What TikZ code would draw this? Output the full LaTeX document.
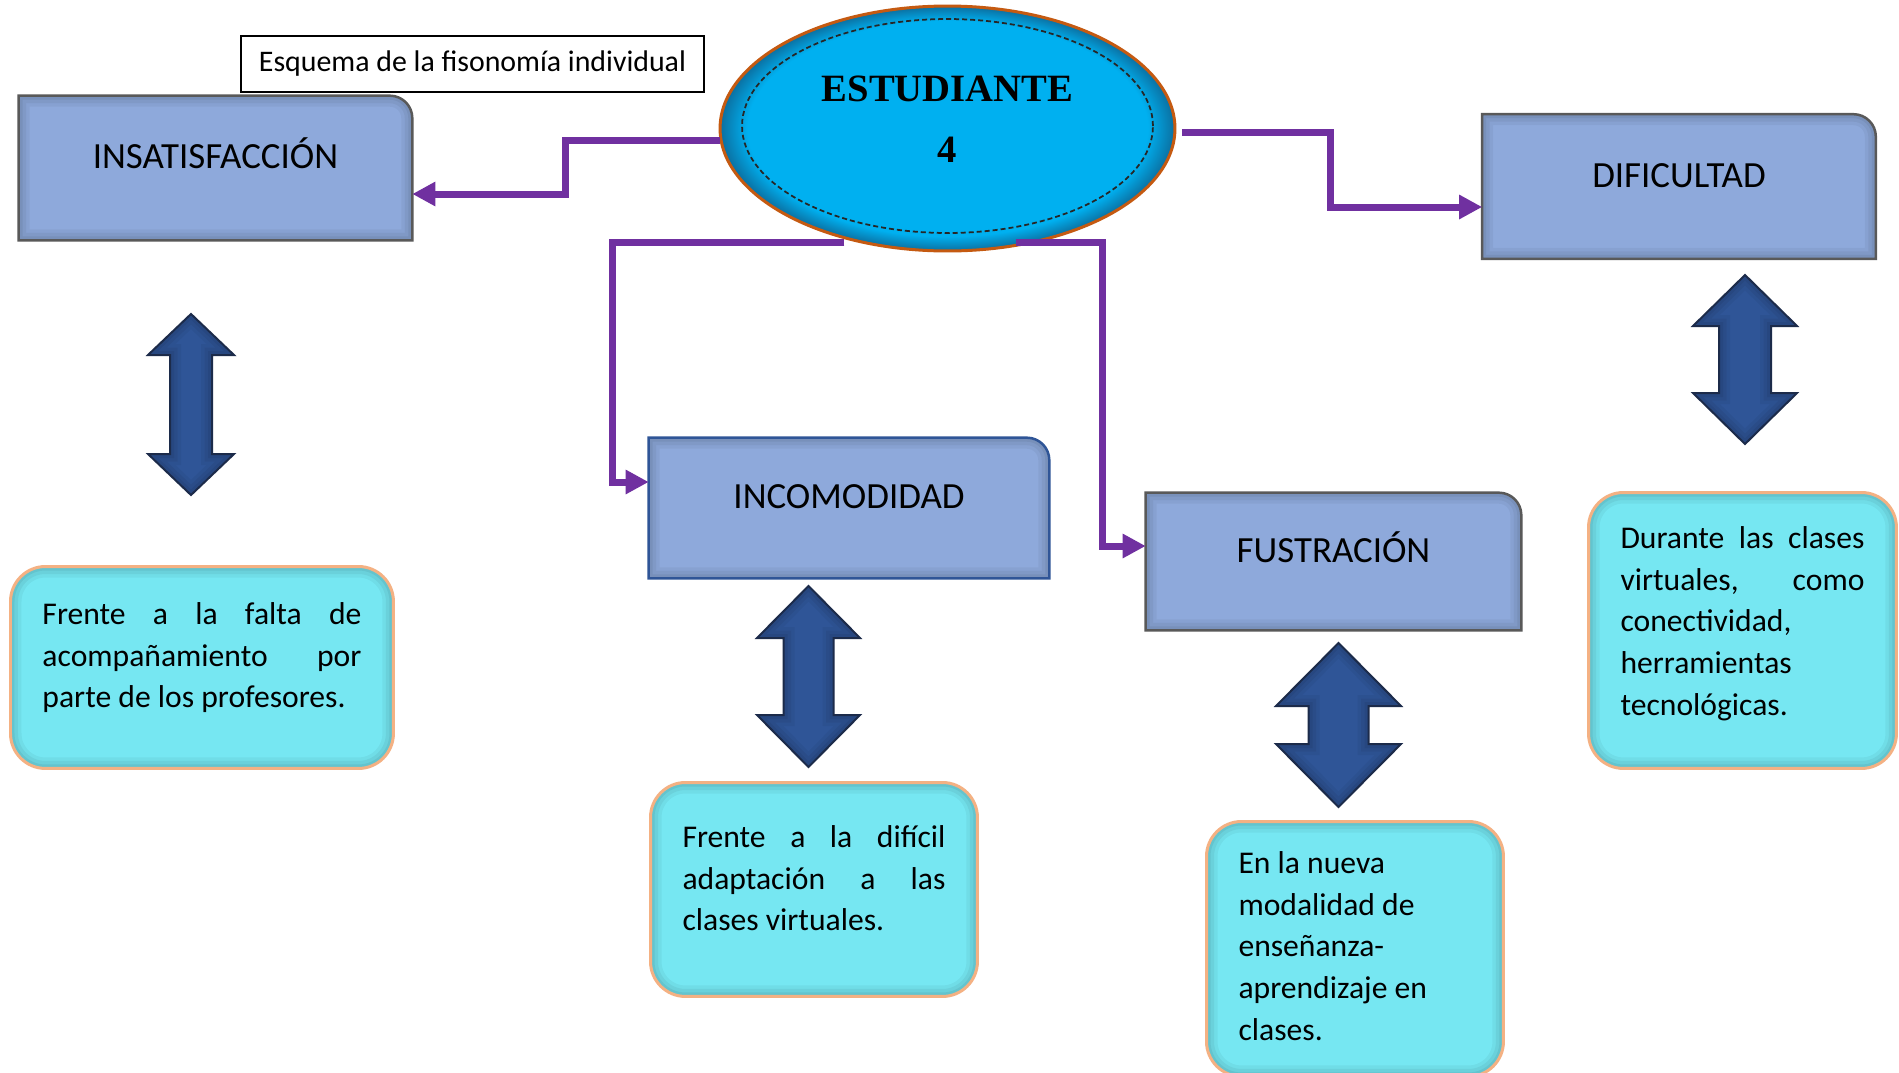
\documentclass[tikz,border=0pt]{standalone}
\usepackage{fontspec}
\setmainfont{Carlito}
\newfontfamily\estfuente{Liberation Serif}
\usetikzlibrary{arrows.meta,shapes.geometric,backgrounds}

\definecolor{morado}{HTML}{7030A0}
\definecolor{azultema}{HTML}{8EA9DB}
\definecolor{bordegris}{HTML}{595959}
\definecolor{bordeazul}{HTML}{2F5597}
\definecolor{cian}{HTML}{76E7F2}
\definecolor{naranja}{HTML}{F4B183}
\definecolor{cielo}{HTML}{00B0F0}
\definecolor{cieloosc}{HTML}{0B6FA0}
\definecolor{borde}{HTML}{C55A11}
\definecolor{flechaazul}{HTML}{2F5597}
\definecolor{flechaborde}{HTML}{1C2B4A}

\pgfdeclareradialshading{brillo}{\pgfpoint{0bp}{0bp}}{color(0bp)=(cielo); color(22bp)=(cielo); color(25bp)=(cieloosc); color(30bp)=(cieloosc)}

\newcommand{\lineaj}[1]{\makebox[\linewidth][s]{#1}}
\newcommand{\cuerpo}{\fontsize{18}{23.8}\selectfont}
\newcommand{\titulo}{\fontsize{21}{25}\selectfont}

\tikzset{
  tema/.style={minimum width=7.86cm, minimum height=2.88cm, inner sep=0pt, font=\titulo, text height=0.5cm, text depth=0.47cm},
  marco/.style={fill=azultema, line width=0.05cm},
  sombra/.style={draw=black, line width=0.44cm, opacity=0.045,
    preaction={draw=black, line width=0.3cm, opacity=0.05},
    postaction={draw=black, line width=0.16cm, opacity=0.06}},
  nota/.style={anchor=north west, fill=cian, draw=naranja, line width=0.06cm, rounded corners=0.7cm, inner xsep=0.64cm, inner ysep=0pt, font=\cuerpo,
    path picture={\draw[sombra, rounded corners=0.7cm] (path picture bounding box.south west) rectangle (path picture bounding box.north east);}},
  flujo/.style={draw=morado, line width=0.14cm, -{Triangle[length=0.46cm, width=0.46cm]}},
  flecha/.style={fill=flechaazul, draw=flechaborde, line width=0.04cm},
  ovalo/.style={ellipse, minimum width=9.1cm, minimum height=4.9cm, inner sep=0pt, shade, shading=brillo, draw=borde, line width=0.06cm},
  rotulo/.style={font=\estfuente\bfseries\fontsize{22}{26}\selectfont, inner sep=0pt},
  leyenda/.style={draw, line width=0.03cm, minimum width=9.26cm, minimum height=1.12cm, font=\fontsize{17}{20}\selectfont},
}

\begin{document}
\begin{tikzpicture}[x=0.02cm, y=-0.02cm]
\useasboundingbox (0,0) rectangle (1899,1072);

% centro
\node[ovalo] (est) at (947.5,128.5) {};
\draw[dashed, dash pattern=on 0.1cm off 0.06cm, line width=0.035cm, black!85] ([yshift=0.05cm]est.center) ellipse [x radius=4.11cm, y radius=2.14cm];
\node[rotulo] (estt) at (947.5,89) {ESTUDIANTE};
\node[rotulo] (num) at (947.5,150) {4};

\node[leyenda] (esq) at (472.5,64) {Esquema de la fisonomía individual};

% temas
\node[tema] (insat) at (215.5,168) {INSATISFACCIÓN};
\node[tema] (dific) at (1679,186.5) {DIFICULTAD};
\node[tema, minimum width=8cm, minimum height=2.8cm] (incom) at (849,508) {INCOMODIDAD};
\node[tema, minimum width=7.5cm, minimum height=2.74cm] (fust) at (1333.5,561.5) {FUSTRACIÓN};

% notas
\node[nota] (frente1) at (9,565) {\parbox[c][4.04cm][t]{6.38cm}{\vspace*{0.57cm}\strut\lineaj{Frente a la falta de}\\\lineaj{acompañamiento por}\\parte de los profesores.}};
\node[nota] (frente2) at (649,781) {\parbox[c][4.28cm][t]{5.26cm}{\vspace*{0.71cm}\strut\lineaj{Frente a la difícil}\\\lineaj{adaptación a las}\\clases virtuales.}};
\node[nota] (nueva) at (1205,820) {\parbox[c][5.1cm][t]{4.66cm}{\vspace*{0.45cm}\strut En la nueva\\modalidad de\\enseñanza-\\aprendizaje en\\clases.}};
\node[nota] (durante) at (1587,491) {\parbox[c][5.52cm][t]{4.88cm}{\vspace*{0.53cm}\strut\lineaj{Durante las clases}\\\lineaj{virtuales, como}\\conectividad,\\herramientas\\tecnológicas.}};

% flechas dobles
\foreach \cx/\ty/\by/\hw/\sw/\hl in {191/314/495/43/21/41, 808.5/586/767/51.5/25/52, 1338.5/643/807/62.5/30/63, 1745/275/444/52/26/51}
  \filldraw[flecha, path picture={\draw[sombra] (\cx,\ty) -- ({\cx+\hw},{\ty+\hl}) -- ({\cx+\sw},{\ty+\hl}) -- ({\cx+\sw},{\by-\hl}) -- ({\cx+\hw},{\by-\hl}) -- (\cx,\by) -- ({\cx-\hw},{\by-\hl}) -- ({\cx-\sw},{\by-\hl}) -- ({\cx-\sw},{\ty+\hl}) -- ({\cx-\hw},{\ty+\hl}) -- cycle;}]
    (\cx,\ty) -- ({\cx+\hw},{\ty+\hl}) -- ({\cx+\sw},{\ty+\hl}) -- ({\cx+\sw},{\by-\hl}) -- ({\cx+\hw},{\by-\hl}) -- (\cx,\by) -- ({\cx-\hw},{\by-\hl}) -- ({\cx-\sw},{\by-\hl}) -- ({\cx-\sw},{\ty+\hl}) -- ({\cx-\hw},{\ty+\hl}) -- cycle;

% conectores
\coordinate (c1) at (565.5,194);
\coordinate (c2) at (1330,207);
\coordinate (c3) at (612,482);
\coordinate (c4) at (1102,546);
\draw[flujo] (est.183) -| (c1) -- (c1 -| insat.east);
\draw[flujo] ([xshift=0.12cm]est.359) -| (c2) -- (c2 -| dific.west);
\draw[flujo] ([yshift=-0.06cm]est.227) -| (c3) -- (c3 -| incom.west);
\draw[flujo] ([yshift=0.08cm]est.300) -| (c4) -- (c4 -| fust.west);

\begin{scope}[on background layer]
  \fill[white] (0,0) rectangle (1899,1072);
  \foreach \n/\c in {insat/bordegris, dific/bordegris, incom/bordeazul, fust/bordegris}
    \filldraw[marco, draw=\c, path picture={\draw[sombra] (path picture bounding box.south west) -- (path picture bounding box.north west) -- ([xshift=-0.45cm]path picture bounding box.north east) arc[start angle=90, end angle=0, radius=0.45cm] -- (path picture bounding box.south east) -- cycle;}]
      (\n.south west) -- (\n.north west) -- ([xshift=-0.45cm]\n.north east) arc[start angle=90, end angle=0, radius=0.45cm] -- (\n.south east) -- cycle;
\end{scope}
\end{tikzpicture}
\end{document}
